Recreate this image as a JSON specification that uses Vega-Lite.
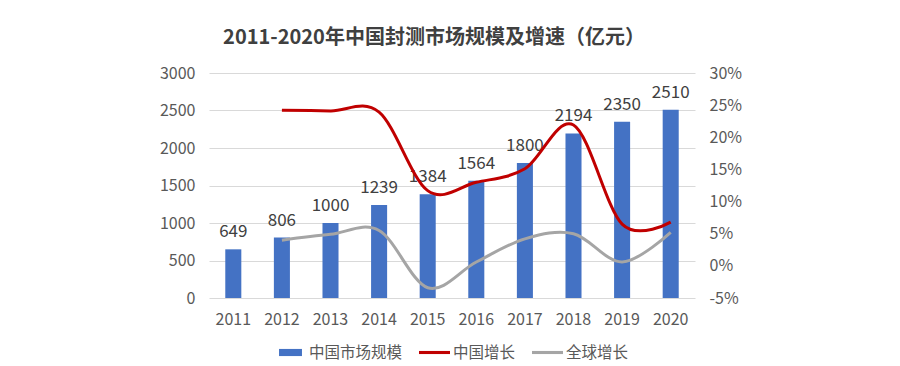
{
  "$schema": "https://vega.github.io/schema/vega-lite/v6.json",
  "autosize": {"type": "none"},
  "width": 486,
  "height": 225,
  "padding": {"left": 209, "top": 73, "right": 205, "bottom": 68},
  "background": "white",
  "title": {
    "text": "2011-2020年中国封测市场规模及增速（亿元）",
    "fontSize": 20,
    "fontWeight": "bold",
    "color": "#404040",
    "font": "Noto Sans CJK SC",
    "anchor": "middle",
    "frame": "group",
    "dx": -18,
    "offset": 17
  },
  "datasets": {
    "bars": [
      {"year": "2011", "value": 649},
      {"year": "2012", "value": 806},
      {"year": "2013", "value": 1000},
      {"year": "2014", "value": 1239},
      {"year": "2015", "value": 1384},
      {"year": "2016", "value": 1564},
      {"year": "2017", "value": 1800},
      {"year": "2018", "value": 2194},
      {"year": "2019", "value": 2350},
      {"year": "2020", "value": 2510}
    ],
    "growth": [
      {"year": "2012", "series": "中国增长", "rate": 24.2},
      {"year": "2013", "series": "中国增长", "rate": 24.1},
      {"year": "2014", "series": "中国增长", "rate": 23.9},
      {"year": "2015", "series": "中国增长", "rate": 11.7},
      {"year": "2016", "series": "中国增长", "rate": 13.0},
      {"year": "2017", "series": "中国增长", "rate": 15.1},
      {"year": "2018", "series": "中国增长", "rate": 21.9},
      {"year": "2019", "series": "中国增长", "rate": 6.5},
      {"year": "2020", "series": "中国增长", "rate": 6.8},
      {"year": "2012", "series": "全球增长", "rate": 4.0},
      {"year": "2013", "series": "全球增长", "rate": 4.9},
      {"year": "2014", "series": "全球增长", "rate": 5.5},
      {"year": "2015", "series": "全球增长", "rate": -3.4},
      {"year": "2016", "series": "全球增长", "rate": 0.6},
      {"year": "2017", "series": "全球增长", "rate": 4.2},
      {"year": "2018", "series": "全球增长", "rate": 5.0},
      {"year": "2019", "series": "全球增长", "rate": 0.6},
      {"year": "2020", "series": "全球增长", "rate": 5.2}
    ]
  },
  "encoding": {
    "x": {
      "field": "year",
      "type": "ordinal",
      "scale": {"paddingInner": 0.67, "paddingOuter": 0.335},
      "axis": {
        "title": null,
        "domain": false,
        "ticks": false,
        "tickSize": 0,
        "labelAngle": 0,
        "labelPadding": 13,
        "labelFontSize": 16,
        "labelColor": "#595959",
        "labelFont": "Noto Sans CJK SC"
      }
    }
  },
  "layer": [
    {
      "data": {"name": "bars"},
      "encoding": {
        "y": {
          "field": "value",
          "type": "quantitative",
          "scale": {"domain": [0, 3000], "nice": false},
          "axis": {
            "title": null,
            "orient": "left",
            "format": "d",
            "values": [0, 500, 1000, 1500, 2000, 2500, 3000],
            "domain": false,
            "ticks": false,
            "tickSize": 0,
            "labelPadding": 14,
            "labelFontSize": 16,
            "labelColor": "#595959",
            "labelFont": "Noto Sans CJK SC",
            "grid": true,
            "gridColor": "#D9D9D9",
            "gridWidth": 1
          }
        }
      },
      "layer": [
        {
          "mark": {"type": "bar"},
          "encoding": {
            "color": {
              "datum": "中国市场规模",
              "type": "nominal",
              "scale": {
                "domain": ["中国市场规模", "中国增长", "全球增长"],
                "range": ["#4472C4", "#C00000", "#A5A5A5"]
              },
              "legend": {
                "title": null,
                "orient": "bottom",
                "direction": "horizontal",
                "offset": 10,
                "symbolSize": 961,
                "labelOffset": 3,
                "columnPadding": 16,
                "labelFontSize": 15.5,
                "labelColor": "#595959",
                "labelFont": "Noto Sans CJK SC",
                "encode": {
                  "symbols": {
                    "update": {
                      "shape": {"signal": "datum.value === '中国市场规模' ? 'M-0.74,-0.23H0.74V0.23H-0.74Z' : 'M-1,-0.1H1V0.1H-1Z'"},
                      "fill": {"scale": "color", "field": "value"},
                      "stroke": {"value": "transparent"},
                      "strokeWidth": {"value": 0},
                      "opacity": {"value": 1}
                    }
                  }
                }
              }
            }
          }
        },
        {
          "mark": {
            "type": "text",
            "baseline": "alphabetic",
            "dy": -12,
            "fontSize": 17,
            "color": "#404040",
            "font": "Noto Sans CJK SC"
          },
          "encoding": {
            "text": {"field": "value", "type": "quantitative"}
          }
        }
      ]
    },
    {
      "data": {"name": "growth"},
      "mark": {
        "type": "line",
        "interpolate": "cardinal",
        "strokeWidth": 3
      },
      "encoding": {
        "y": {
          "field": "rate",
          "type": "quantitative",
          "scale": {"domain": [-5, 30], "nice": false},
          "axis": {
            "title": null,
            "orient": "right",
            "values": [-5, 0, 5, 10, 15, 20, 25, 30],
            "labelExpr": "datum.value + '%'",
            "domain": false,
            "ticks": false,
            "tickSize": 0,
            "grid": false,
            "labelPadding": 14,
            "labelFontSize": 16,
            "labelColor": "#595959",
            "labelFont": "Noto Sans CJK SC"
          }
        },
        "color": {"field": "series", "type": "nominal", "legend": null}
      }
    }
  ],
  "resolve": {"scale": {"y": "independent"}},
  "config": {
    "view": {"stroke": null},
    "legend": {"layout": {"bottom": {"anchor": "middle"}}}
  }
}
